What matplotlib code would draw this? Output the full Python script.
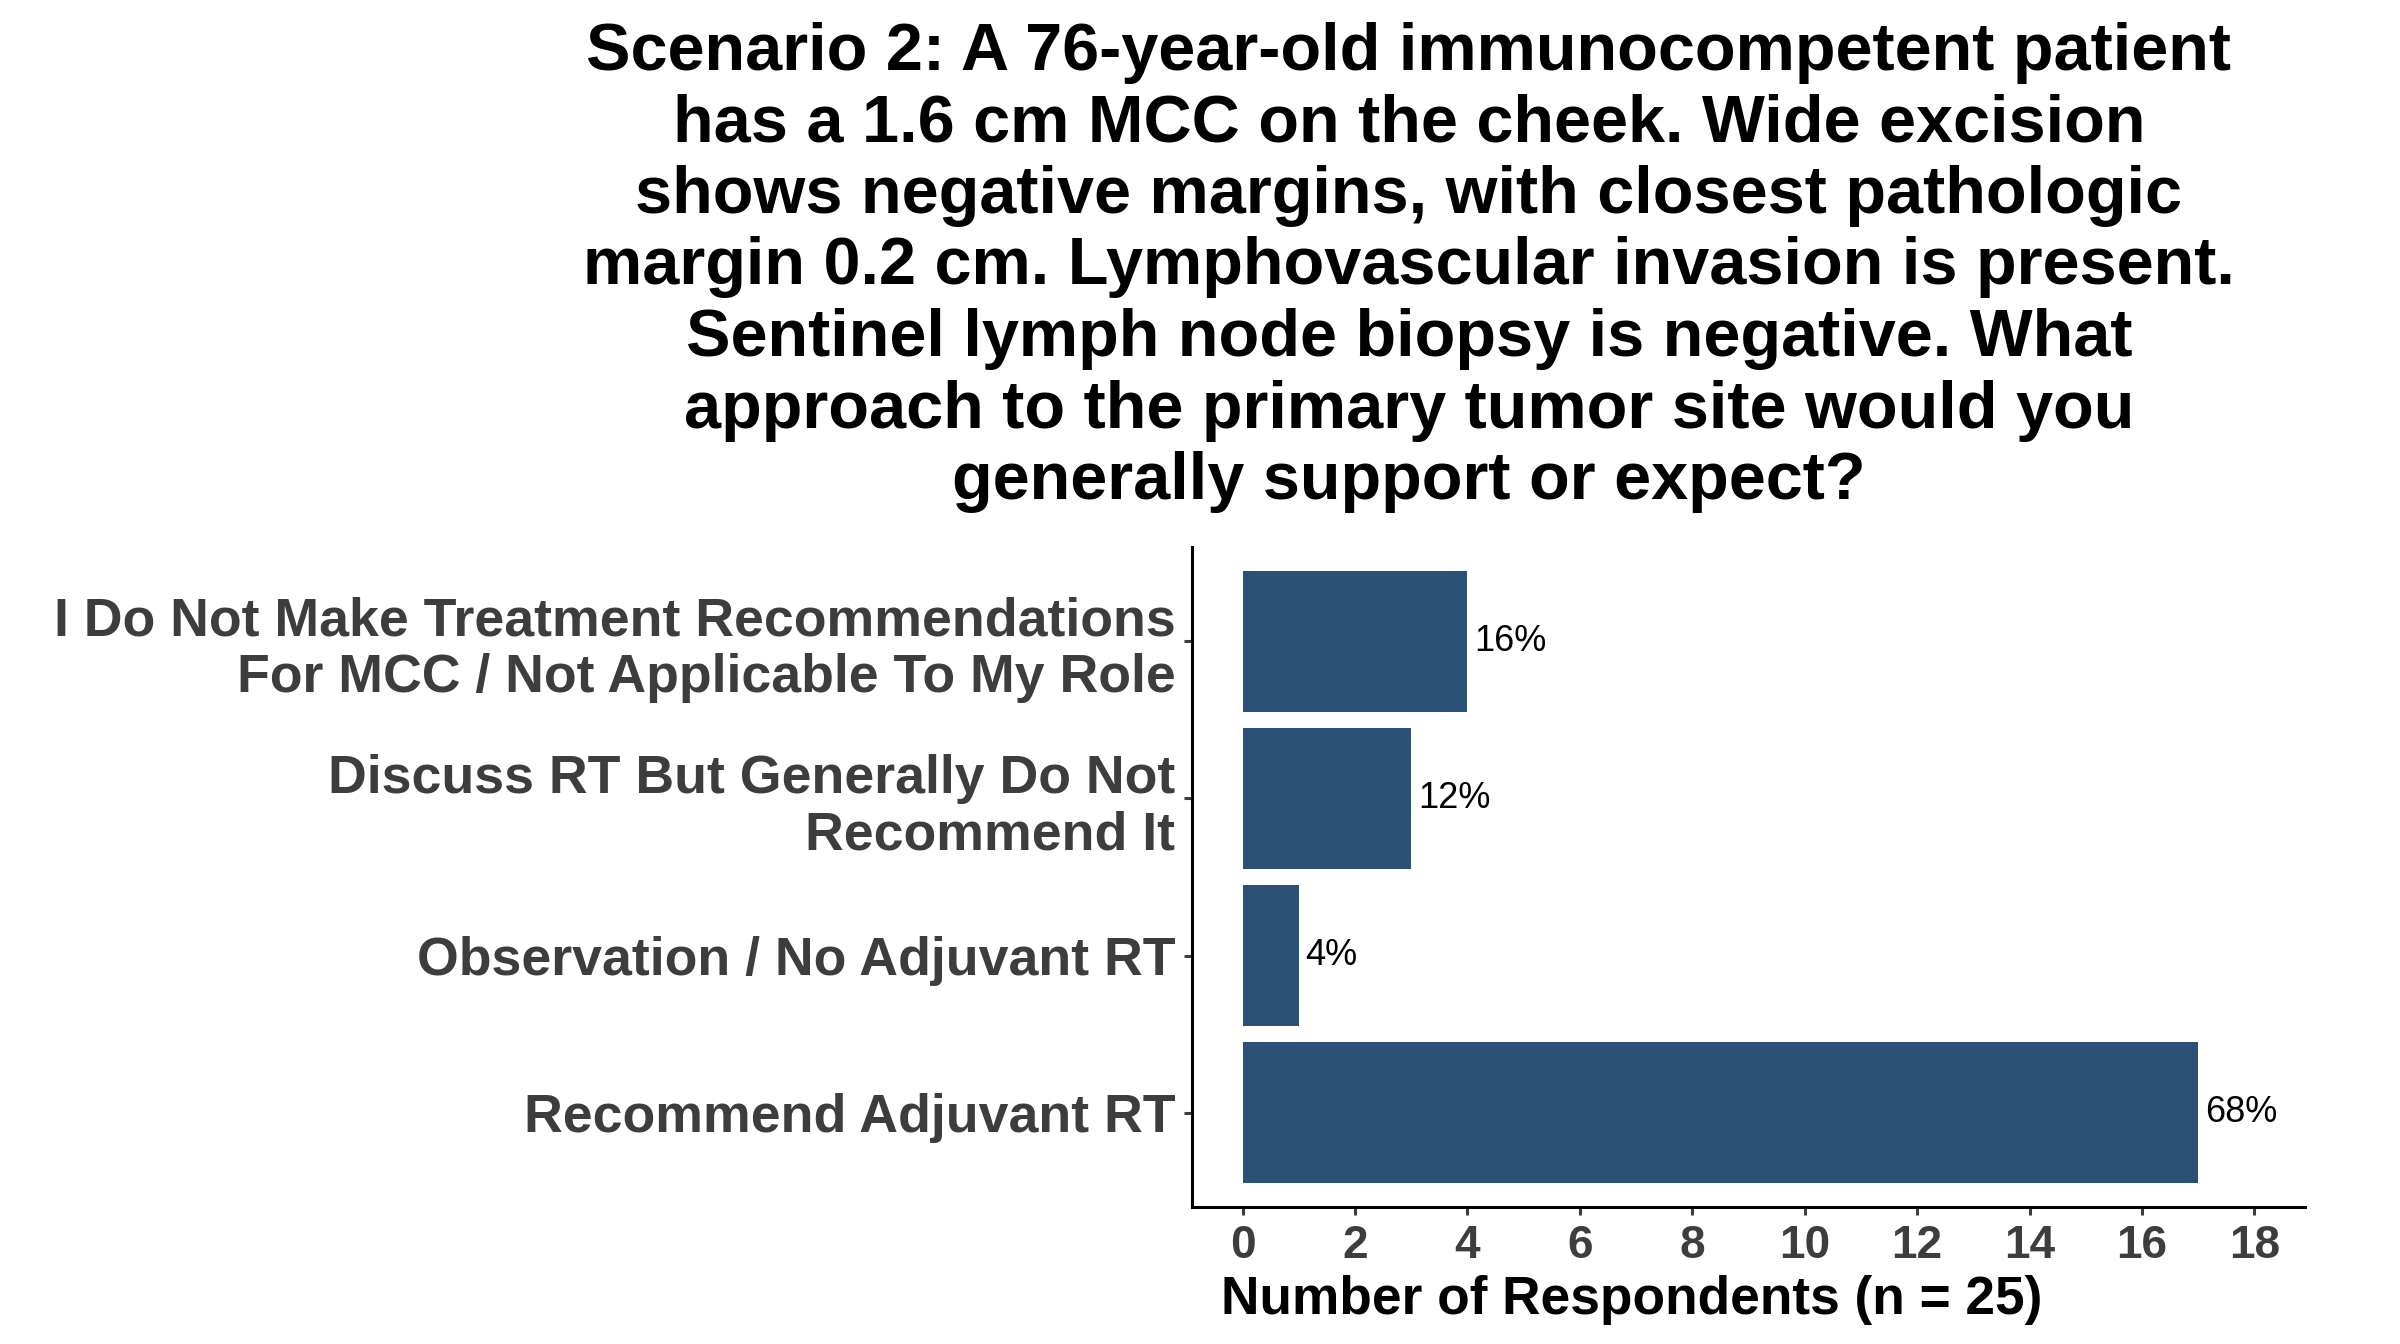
import numpy as np
import matplotlib
matplotlib.use('Agg')
import matplotlib.pyplot as plt

plt.rcParams['font.family'] = ['Liberation Sans', 'DejaVu Sans']

# categories from bottom to top, as drawn
categories = ['Recommend Adjuvant RT',
              'Observation / No Adjuvant RT',
              'Discuss RT But Generally Do Not\nRecommend It',
              'I Do Not Make Treatment Recommendations\nFor MCC / Not Applicable To My Role']
counts = [17, 1, 3, 4]
pct_labels = ['68%', '4%', '12%', '16%']
xticks = list(range(0, 20, 2))

title = ('Scenario 2: A 76-year-old immunocompetent patient\n'
         'has a 1.6 cm MCC on the cheek. Wide excision\n'
         'shows negative margins, with closest pathologic\n'
         'margin 0.2 cm. Lymphovascular invasion is present.\n'
         'Sentinel lymph node biopsy is negative. What\n'
         'approach to the primary tumor site would you\n'
         'generally support or expect?')

bar_color = '#2B5075'
tick_color = '#3D3D3D'

fig = plt.figure(figsize=(12, 6.72), dpi=200)
ax = fig.add_axes([0.4967, 0.102, 0.4637, 0.491])

ypos = np.arange(1, len(categories) + 1)
ax.barh(ypos, counts, height=0.9, color=bar_color)
for y, c, lab in zip(ypos, counts, pct_labels):
    ax.text(c + 0.12, y, lab, va='center', ha='left', fontsize=13, color='black')

ax.set_xlim(-0.9, 18.9)
ax.set_ylim(0.4, 4.6)
ax.set_xticks(xticks)
ax.set_yticks(ypos)
ax.set_yticklabels(categories, fontsize=19.3, fontweight='bold', color=tick_color,
                   linespacing=1.17)
ax.set_xticklabels([str(t) for t in xticks], fontsize=16.5, fontweight='bold', color=tick_color)
ax.tick_params(axis='both', length=3, width=1.1, color=tick_color, pad=3)

for s in ['top', 'right']:
    ax.spines[s].set_visible(False)
for s in ['left', 'bottom']:
    ax.spines[s].set_linewidth(1.1)
    ax.spines[s].set_color('black')

# axis title sits left of the panel centre in the original
fig.text(0.680, 0.033, 'Number of Respondents (n = 25)', ha='center', va='center',
         fontsize=19.2, fontweight='bold', color='black')

fig.text(0.587, 0.801, title, ha='center', va='center', multialignment='center',
         fontsize=24, fontweight='bold', color='black')

fig.savefig('out.png', dpi=200, facecolor='white')
